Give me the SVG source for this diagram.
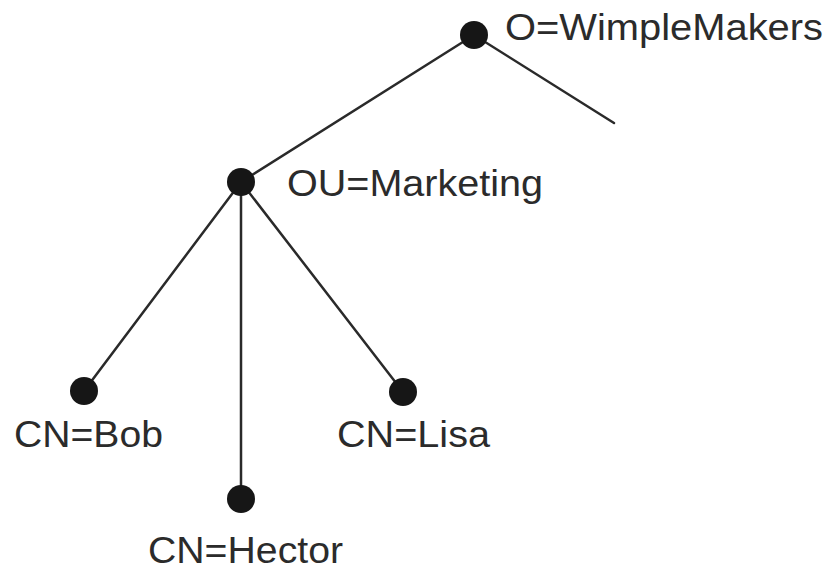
<svg xmlns="http://www.w3.org/2000/svg" width="833" height="574" viewBox="0 0 833 574">
  <style>
    .edge { stroke: #2a2a2a; stroke-width: 2.5; fill: none; stroke-linecap: round; }
    .dot { fill: #161616; }
    .label { font-family: "Liberation Sans", Arial, sans-serif; font-size: 36px; fill: #2b2b2b; }
  </style>
  <rect width="833" height="574" fill="#ffffff"/>
  <g id="connectors">
    <line class="edge" x1="474" y1="35" x2="614" y2="123"/>
    <line class="edge" x1="474" y1="35" x2="241" y2="182"/>
    <line class="edge" x1="241" y1="182" x2="84" y2="391"/>
    <line class="edge" x1="241" y1="182" x2="241" y2="499"/>
    <line class="edge" x1="241" y1="182" x2="403" y2="392"/>
  </g>
  <g id="wimplemakers">
    <circle class="dot" cx="474" cy="35" r="14"/>
    <text class="label" x="505" y="40" textLength="318" lengthAdjust="spacingAndGlyphs">O=WimpleMakers</text>
  </g>
  <g id="marketing">
    <circle class="dot" cx="241" cy="182" r="14"/>
    <text class="label" x="287" y="196" textLength="256" lengthAdjust="spacingAndGlyphs">OU=Marketing</text>
  </g>
  <g id="bob">
    <circle class="dot" cx="84" cy="391" r="14"/>
    <text class="label" x="14" y="447" textLength="149" lengthAdjust="spacingAndGlyphs">CN=Bob</text>
  </g>
  <g id="lisa">
    <circle class="dot" cx="403" cy="392" r="14"/>
    <text class="label" x="337" y="447" textLength="153" lengthAdjust="spacingAndGlyphs">CN=Lisa</text>
  </g>
  <g id="hector">
    <circle class="dot" cx="241" cy="499" r="14"/>
    <text class="label" x="148" y="563" textLength="195" lengthAdjust="spacingAndGlyphs">CN=Hector</text>
  </g>
</svg>
